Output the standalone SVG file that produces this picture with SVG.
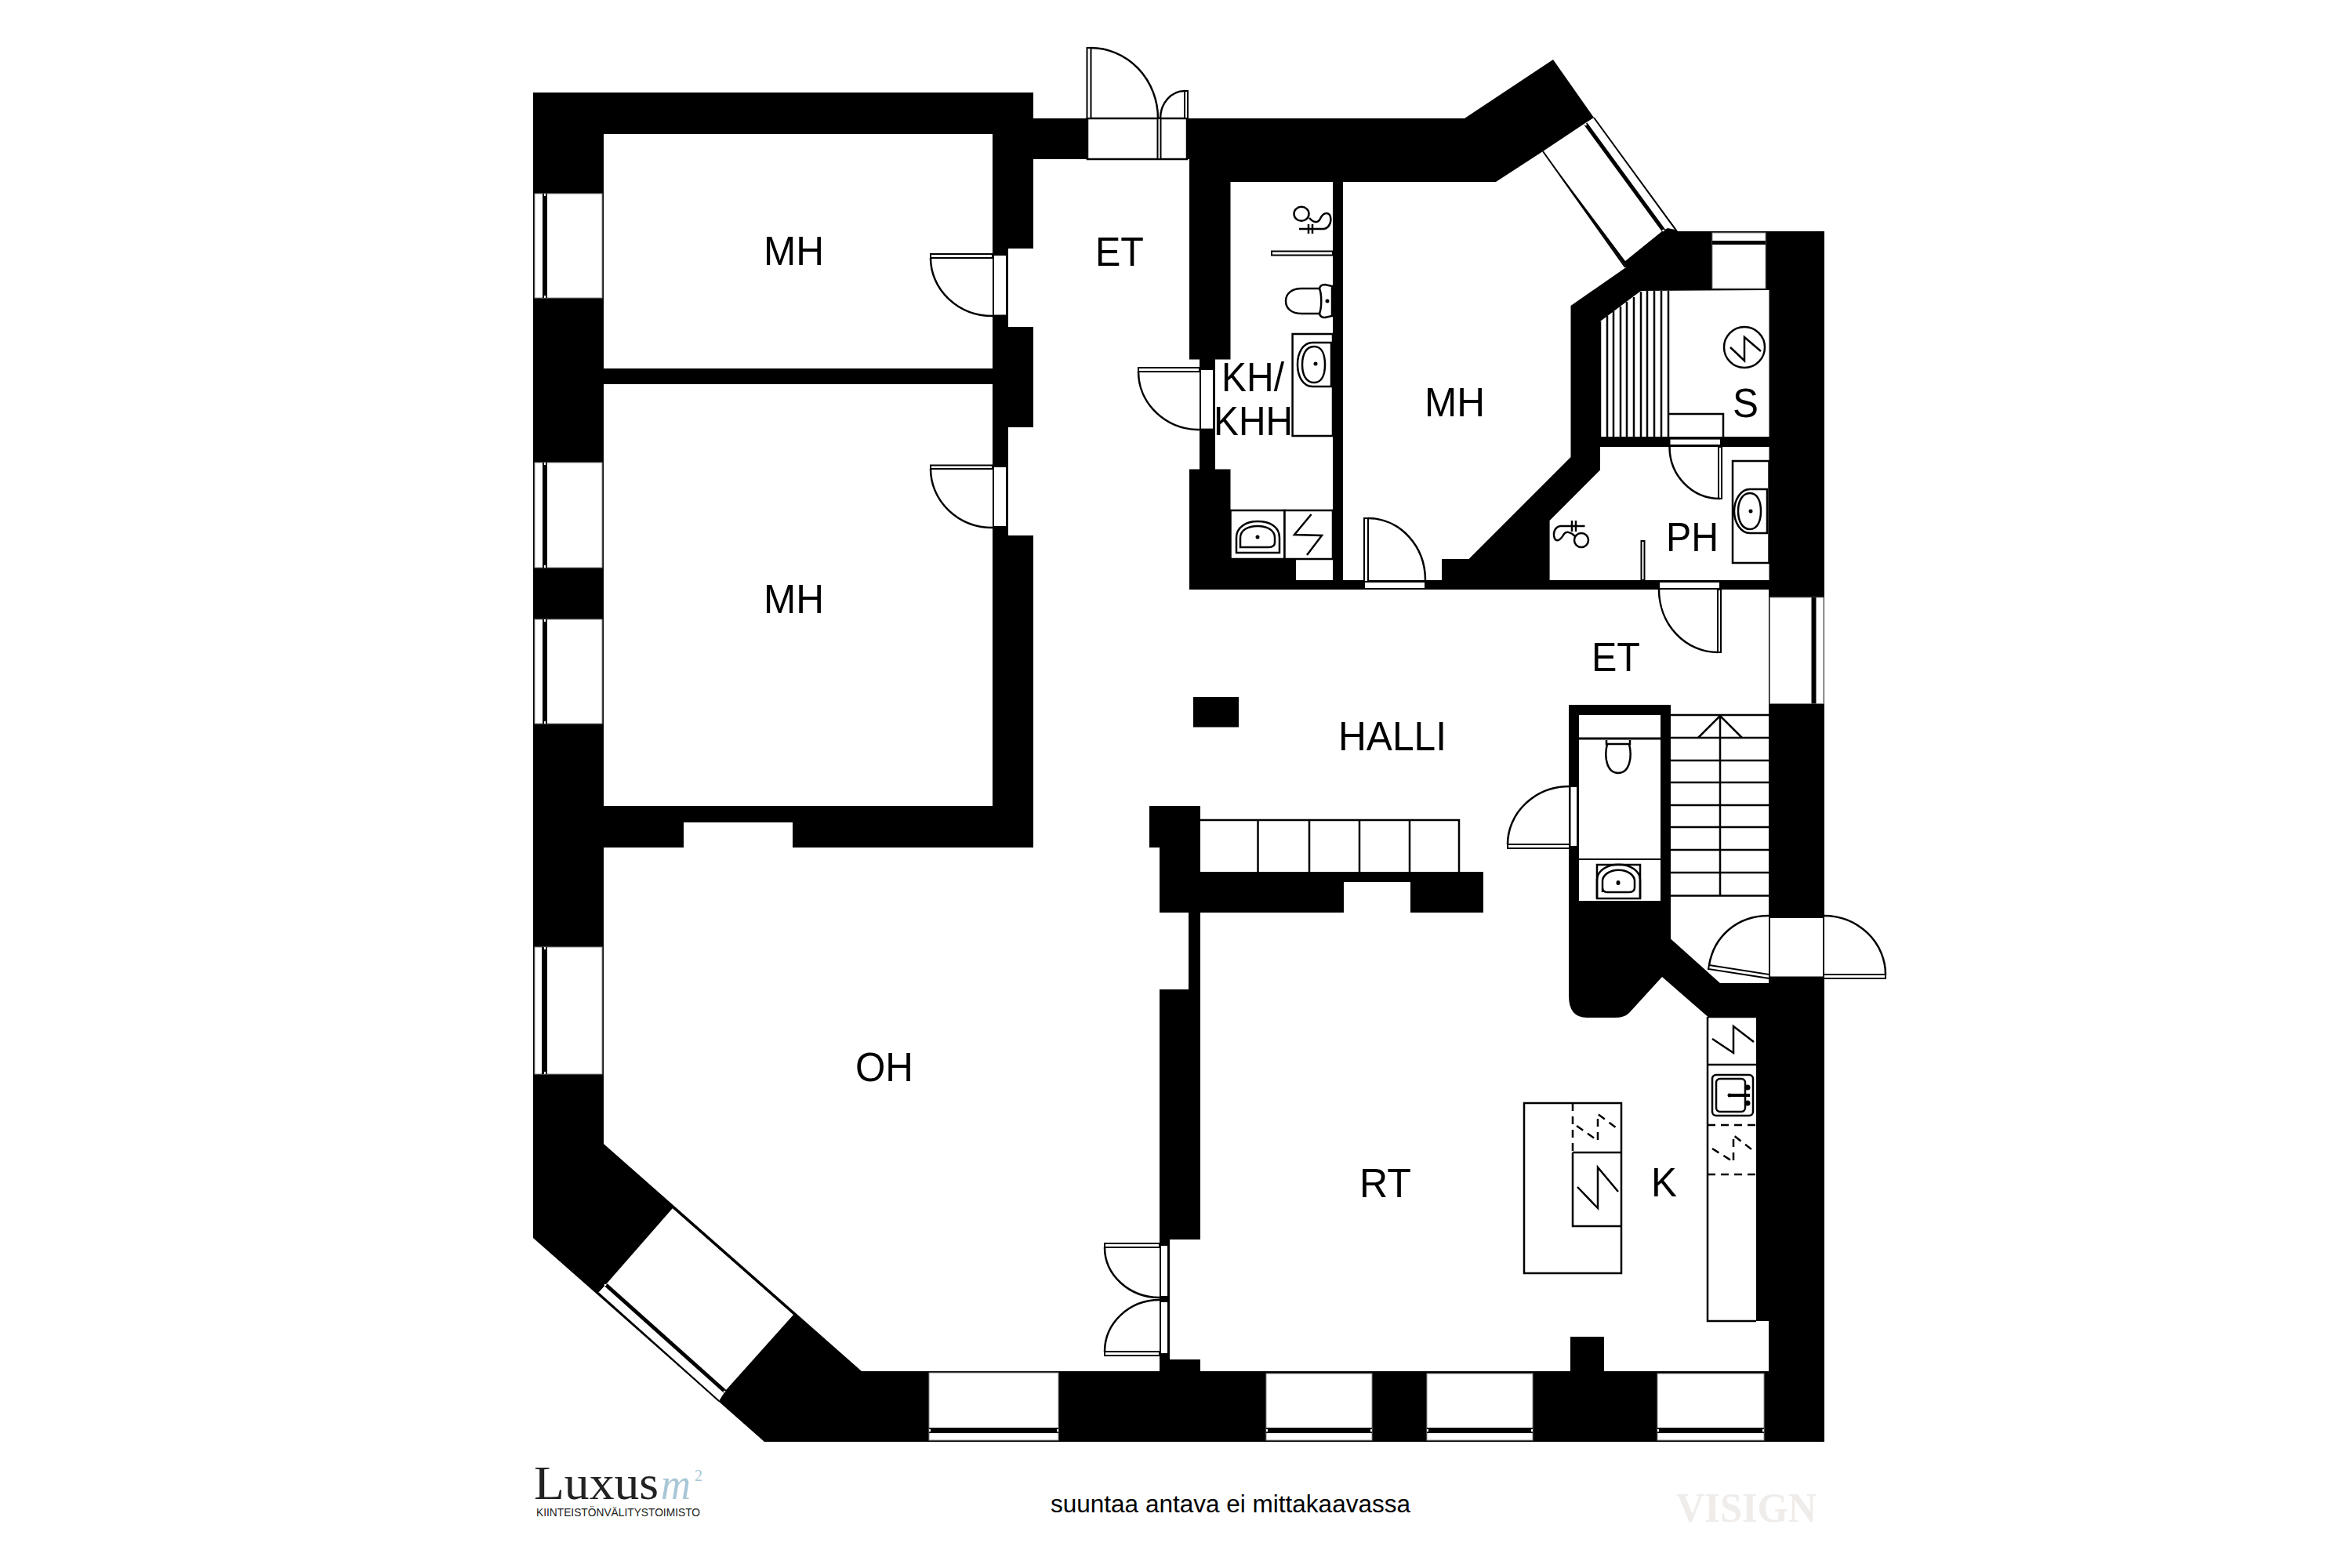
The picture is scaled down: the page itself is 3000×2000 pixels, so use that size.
<svg xmlns="http://www.w3.org/2000/svg" width="3000" height="2000" viewBox="0 0 3000 2000">
<style>
.wall{fill:#000}
.room{fill:#fff}
.win{fill:#fff;stroke:#888;stroke-width:1}
.winw{fill:#fff}
.bar{fill:#000}
.tick{fill:#fff}
.thin{fill:none;stroke:#000;stroke-width:2.5}
.fix{fill:#fff;stroke:#000;stroke-width:2.5}
.dash{fill:none;stroke:#000;stroke-width:2.5;stroke-dasharray:10 7}
.leaf{fill:#fff;stroke:#000;stroke-width:2}
.dot{fill:#000}
.lab{font-family:"Liberation Sans",Arial,sans-serif;font-size:52px;fill:#000}
</style>
<rect width="3000" height="2000" fill="#fff"/>

<!-- walls -->
<polygon class="wall" points="680,118 1318,118 1318,151 1868,151 1981,76 2033,150 2140,295 2327,295 2327,1839 975,1839 680,1579"/>

<!-- rooms -->
<rect class="room" x="770" y="171" width="496" height="299"/>
<rect class="room" x="770" y="490" width="496" height="538"/>
<path class="room" d="M1318,203H1517V458.5H1530V598.6H1517V752H2256V1254H2194L2131,1197.5V899H2001V1270Q2001,1298 2024,1298H2060Q2072,1298 2078,1292L2120,1246L2178.5,1297H2240V1685H2256V1749H2046V1705H2003V1749H1531V1734H1492V1581H1531V1164H1714V1125H1799V1164H1892V1112H1531V1028H1466V1081H1479V1164H1516V1262H1479V1749H1099L770,1459V1081H872V1049H1011V1081H1318V683H1286V545H1318V417H1286V317H1318Z"/>
<polygon class="room" points="1569.5,232 1700,232 1700,740 1653,740 1653,713 1569.5,713 1569.5,598.6 1550,598.6 1550,458.5 1569.5,458.5"/>
<polygon class="room" points="1713,232 1908,232 1968,193 2074,341 2003.5,390 2003.5,583 1873.5,713 1839,713 1839,740 1713,740"/>
<polygon class="room" points="2041,410 2093,371 2256.5,370 2256.5,557 2041,557"/>
<polygon class="room" points="2041,570 2256.5,570 2256.5,740 1976.6,740 1976.6,664 2041,599.5"/>

<!-- windows left -->
<g id="windows">
<rect class="win" x="682" y="247" width="86" height="133"/><rect class="bar" x="692" y="247" width="6" height="133"/>
<rect class="win" x="682" y="590" width="86" height="134"/><rect class="bar" x="692" y="590" width="6" height="134"/>
<rect class="win" x="682" y="790" width="86" height="133"/><rect class="bar" x="692" y="790" width="6" height="133"/>
<rect class="win" x="682" y="1208" width="86" height="162"/><rect class="bar" x="691" y="1208" width="7" height="162"/>
<!-- windows bottom -->
<rect class="win" x="1185" y="1751" width="165" height="86"/><rect class="bar" x="1185" y="1821" width="165" height="7"/>
<rect class="win" x="1615" y="1752" width="135" height="85"/><rect class="bar" x="1615" y="1821" width="135" height="7"/>
<rect class="win" x="1820" y="1752" width="135" height="85"/><rect class="bar" x="1820" y="1821" width="135" height="7"/>
<rect class="win" x="2114" y="1752" width="136" height="85"/><rect class="bar" x="2114" y="1821" width="136" height="7"/>
<!-- window end marks -->
<g class="tick">
<rect x="1185" y="1823" width="2" height="3"/><rect x="1348" y="1823" width="2" height="3"/>
<rect x="1615" y="1823" width="2" height="3"/><rect x="1748" y="1823" width="2" height="3"/>
<rect x="1820" y="1823" width="2" height="3"/><rect x="1953" y="1823" width="2" height="3"/>
<rect x="2114" y="1823" width="2" height="3"/><rect x="2248" y="1823" width="2" height="3"/>
<rect x="694" y="247" width="2" height="3"/><rect x="694" y="377" width="2" height="3"/>
<rect x="694" y="590" width="2" height="3"/><rect x="694" y="721" width="2" height="3"/>
<rect x="694" y="790" width="2" height="3"/><rect x="694" y="920" width="2" height="3"/>
<rect x="694" y="1208" width="2" height="3"/><rect x="694" y="1367" width="2" height="3"/>
</g>
<!-- diagonal SW window -->
<polygon class="winw" points="858,1541 1012,1677 926,1773 917,1787 763,1649 774,1637"/>
<line x1="773" y1="1639" x2="925" y2="1775" stroke="#000" stroke-width="5"/>
<line x1="858" y1="1540" x2="1013" y2="1676" stroke="#000" stroke-width="2"/>
<line x1="763" y1="1649" x2="917" y2="1787" stroke="#000" stroke-width="2"/>
<circle class="tick" cx="772" cy="1639" r="1.3"/><circle class="tick" cx="924" cy="1775" r="1.3"/>
<!-- diagonal NE window -->
<polygon class="winw" points="1968,193 2022,157 2033,150 2137,293 2127,291 2120,295 2073,333"/>
<line x1="2022.5" y1="158" x2="2122" y2="294" stroke="#000" stroke-width="5"/>
<line x1="1968" y1="193" x2="2073" y2="341" stroke="#000" stroke-width="2"/>
<line x1="2033" y1="150" x2="2138" y2="294" stroke="#000" stroke-width="2"/>
<circle class="tick" cx="2022.5" cy="159" r="1.3"/><circle class="tick" cx="2121.5" cy="294" r="1.3"/>
<!-- sauna vent -->
<rect class="win" x="2184" y="297" width="68" height="71"/><rect class="bar" x="2184" y="307" width="68" height="5"/>
<!-- right window -->
<rect class="win" x="2257.5" y="762" width="68.5" height="135.5"/><rect class="bar" x="2310.5" y="762" width="6" height="135.5"/>
</g>

<!-- pillar -->
<rect id="pillar" class="wall" x="1522" y="889" width="58" height="38.5"/>

<!-- doors -->
<g id="doors">
<rect class="fix" x="1387" y="151" width="127" height="52"/>
<rect class="leaf" x="1476.5" y="151" width="4" height="52"/>
<rect class="leaf" x="1386.5" y="61" width="5" height="90"/>
<path class="thin" d="M1391,61A86,90 0 0 1 1477,151"/>
<rect class="leaf" x="1511" y="116" width="4" height="35"/>
<path class="thin" d="M1511,116A31,35 0 0 0 1480,151"/>

<rect class="leaf" x="1267" y="325" width="17" height="77.5"/>
<rect class="leaf" x="1187" y="324" width="79" height="5"/>
<path class="thin" d="M1187,329A79,74 0 0 0 1266,403"/>
<rect class="leaf" x="1267" y="595" width="17" height="77"/>
<rect class="leaf" x="1187" y="593.5" width="79" height="4.5"/>
<path class="thin" d="M1187,598A79,75 0 0 0 1266,673"/>

<rect class="leaf" x="1531" y="471" width="17" height="76.6"/>
<rect class="leaf" x="1452" y="469" width="78" height="5"/>
<path class="thin" d="M1452,474A78,74 0 0 0 1530,548"/>

<rect class="leaf" x="1740" y="742" width="78" height="9"/>
<rect class="leaf" x="1740" y="661" width="5" height="81"/>
<path class="thin" d="M1745,661A73,79 0 0 1 1818,740"/>

<rect class="leaf" x="2129.5" y="559.6" width="65.5" height="8.4"/>
<rect class="leaf" x="2192" y="570" width="4" height="66"/>
<path class="thin" d="M2129.5,570A64,66 0 0 0 2194,636"/>

<rect class="leaf" x="2116" y="742" width="78" height="9"/>
<rect class="leaf" x="2191" y="752" width="4" height="80"/>
<path class="thin" d="M2116,752A75,80 0 0 0 2191,832"/>

<rect class="leaf" x="2002.5" y="1003" width="9.5" height="77"/>
<rect class="leaf" x="1923" y="1077" width="79" height="5"/>
<path class="thin" d="M1923,1077A79,74 0 0 1 2002,1003"/>

<rect class="leaf" x="1480" y="1588" width="10" height="66"/>
<rect class="leaf" x="1480" y="1660" width="10" height="67"/>
<rect class="leaf" x="1409" y="1586" width="70" height="5"/>
<path class="thin" d="M1409,1591A70,64 0 0 0 1479,1655"/>
<rect class="leaf" x="1409" y="1724" width="70" height="5"/>
<path class="thin" d="M1409,1724A70,66 0 0 1 1479,1658"/>

<rect class="leaf" x="2257" y="1170" width="69" height="76.5"/>
<rect class="leaf" x="2326" y="1243" width="79" height="5"/>
<path class="thin" d="M2405,1243A79,75 0 0 0 2326,1168"/>
<polygon class="leaf" points="2180,1231 2257,1243 2257,1248 2179,1236"/>
<path class="thin" d="M2180,1231C2186,1195 2215,1168 2256,1168"/>
</g>

<!-- stairs -->
<g id="stairs">
<path class="thin" d="M1531,1046H1861V1112M1604.5,1046V1112M1670,1046V1112M1734,1046V1112M1798,1046V1112"/>
<path class="thin" d="M2131,912H2256M2131,941H2256M2131,970H2256M2131,998H2256M2131,1027H2256M2131,1055H2256M2131,1084H2256M2131,1113H2256M2131,1142.5H2256M2194,912V1142.5M2166,941L2194,913L2222,941"/>
</g>

<!-- small WC -->
<g id="wc">
<rect class="room" x="2014" y="912" width="104" height="237"/>
<line x1="2014" y1="942" x2="2118" y2="942" stroke="#000" stroke-width="3"/>
<line x1="2014" y1="1096" x2="2118" y2="1096" stroke="#000" stroke-width="2"/>
<path class="thin" d="M2049,944V949H2079V944M2050,949C2046,965 2049,986 2064,986C2079,986 2082,965 2078,949"/>
<rect class="fix" x="2037" y="1103" width="55" height="43"/>
<path class="thin" d="M2037,1146V1122A27,19 0 0 1 2092,1122V1146M2044,1138V1124A20,14 0 0 1 2085,1124V1132Q2085,1138 2078,1138H2050Q2044,1138 2044,1132"/>
<ellipse class="dot" cx="2064" cy="1126" rx="2.5" ry="3"/>
</g>

<!-- KH fixtures -->
<g id="kh">
<ellipse class="thin" cx="1660" cy="272.7" rx="9.5" ry="9"/>
<path class="thin" d="M1670,278C1675,284 1681,285 1684,279C1687,272 1693,270 1696,274C1699,280 1697,290 1689,292"/>
<path class="thin" d="M1669,286V298M1674,286V298M1657,292H1689"/>
<rect class="leaf" x="1622" y="320.5" width="78" height="5"/>
<path class="thin" d="M1683,368H1660C1647,368 1640,375 1640,384C1640,393 1647,400 1660,400H1683C1686,392 1686,376 1683,368Z"/>
<path class="thin" d="M1683,368Q1684,363 1690,363L1699,365V403L1690,405Q1684,405 1683,400"/>
<circle class="dot" cx="1693" cy="384" r="2.5"/>
<rect class="fix" x="1648.6" y="426" width="51.4" height="130"/>
<path class="thin" d="M1698,437H1674C1662,437 1655,450 1655,465C1655,480 1662,493 1674,493H1698Z"/>
<path class="thin" d="M1676,442C1666,442 1661,452 1661,465C1661,478 1666,488 1676,488C1686,488 1690,478 1690,465C1690,452 1686,442 1676,442Z"/>
<circle class="dot" cx="1678" cy="464" r="2.5"/>
<rect class="fix" x="1569.5" y="651" width="69" height="62"/>
<rect class="fix" x="1638.5" y="651" width="61.5" height="62"/>
<path class="thin" d="M1577,705V686C1577,672 1590,665 1604,665C1620,665 1632,672 1632,686V705Z"/>
<path class="thin" d="M1582,698V686C1582,676 1592,671 1604,671C1616,671 1626,676 1626,686V692Q1626,698 1618,698Z"/>
<circle class="dot" cx="1604" cy="685" r="2.5"/>
<path class="thin" d="M1672.6,656L1651,682L1686,683L1667,708"/>
</g>

<!-- sauna -->
<g id="sauna">
<path class="thin" stroke-width="2" d="M2041,410V557M2050,403V557M2058,397V557M2067,391V557M2075,385V557M2084,379V557M2093,372V557M2101,371V557M2110,371V557M2119,371V557"/>
<path class="thin" d="M2128,371V557M2128,528H2198V557"/>
<ellipse class="thin" cx="2225" cy="443" rx="26" ry="26"/>
<path class="thin" d="M2207,443L2225,460V430L2246,448"/>
</g>

<!-- PH fixtures -->
<g id="ph">
<rect class="fix" x="2210" y="588" width="46.5" height="130"/>
<path class="thin" d="M2254,624H2232C2220,624 2212,638 2212,652C2212,666 2220,680 2232,680H2254Z"/>
<path class="thin" d="M2232,629C2222,629 2217,640 2217,652C2217,664 2222,675 2232,675C2242,675 2246,664 2246,652C2246,640 2242,629 2232,629Z"/>
<circle class="dot" cx="2233" cy="652" r="2.5"/>
<circle class="thin" cx="2017" cy="689" r="9"/>
<path class="thin" d="M2009,684C2004,679 1998,677 1995,681C1991,688 1986,692 1983,687C1980,679 1984,672 1990,671"/>
<path class="thin" d="M2005,664V678M2010,664V678M1990,671H2021.5"/>
<rect class="leaf" x="2093.5" y="690" width="4" height="50"/>
</g>

<!-- kitchen -->
<g id="kitchen">
<path class="thin" d="M2178,1297V1685H2240M2178,1297H2240M2178,1358H2240"/>
<path class="thin" d="M2184,1325L2211,1343V1309L2237,1329"/>
<rect class="thin" x="2184" y="1371" width="52" height="52" rx="5"/>
<rect class="thin" x="2189" y="1376" width="37" height="42" rx="5"/>
<line x1="2206" y1="1397" x2="2232" y2="1397" stroke="#000" stroke-width="4"/>
<circle class="dot" cx="2206" cy="1397" r="2.5"/>
<circle class="dot" cx="2229" cy="1387" r="3.5"/><circle class="dot" cx="2229" cy="1407" r="3.5"/>
<path class="dash" d="M2178,1435H2240M2178,1498H2240"/>
<path class="dash" d="M2184,1465L2211,1482V1448L2238,1469"/>
<rect class="thin" x="1944" y="1407" width="124" height="217"/>
<path class="thin" d="M2006,1470H2068M2006,1470V1564H2068"/>
<path class="thin" d="M2012,1514L2038,1541V1489L2064,1520"/>
<path class="dash" d="M2006,1407V1469"/>
<path class="dash" d="M2011,1436L2038,1455V1421L2065,1441"/>
</g>

<!-- labels -->
<g id="labels">
<text class="lab" x="974" y="338" textLength="77" lengthAdjust="spacingAndGlyphs">MH</text>
<text class="lab" x="974" y="782" textLength="77" lengthAdjust="spacingAndGlyphs">MH</text>
<text class="lab" x="1397" y="339" textLength="62" lengthAdjust="spacingAndGlyphs">ET</text>
<text class="lab" x="1558" y="499" textLength="80" lengthAdjust="spacingAndGlyphs">KH/</text>
<text class="lab" x="1548" y="555" textLength="101" lengthAdjust="spacingAndGlyphs">KHH</text>
<text class="lab" x="1817" y="531" textLength="77" lengthAdjust="spacingAndGlyphs">MH</text>
<text class="lab" x="2210" y="532" textLength="33" lengthAdjust="spacingAndGlyphs">S</text>
<text class="lab" x="2125" y="703" textLength="67" lengthAdjust="spacingAndGlyphs">PH</text>
<text class="lab" x="2030" y="856" textLength="62" lengthAdjust="spacingAndGlyphs">ET</text>
<text class="lab" x="1707" y="957" textLength="138" lengthAdjust="spacingAndGlyphs">HALLI</text>
<text class="lab" x="1091" y="1379" textLength="74" lengthAdjust="spacingAndGlyphs">OH</text>
<text class="lab" x="1734" y="1527" textLength="66" lengthAdjust="spacingAndGlyphs">RT</text>
<text class="lab" x="2106" y="1526" textLength="33" lengthAdjust="spacingAndGlyphs">K</text>
</g>

<!-- footer -->
<g id="footer">
<text x="681" y="1912" font-family="'Liberation Serif','Times New Roman',serif" font-size="62" fill="#222" textLength="159" lengthAdjust="spacingAndGlyphs">Luxus</text>
<text x="843" y="1912" font-family="'Liberation Serif','Times New Roman',serif" font-style="italic" font-size="58" fill="#a9c7d6" textLength="38" lengthAdjust="spacingAndGlyphs">m</text>
<text x="886" y="1889" font-family="'Liberation Serif','Times New Roman',serif" font-size="20" fill="#a9c7d6">2</text>
<text x="684" y="1934" font-family="'Liberation Sans',Arial,sans-serif" font-size="14.5" fill="#222" textLength="209" lengthAdjust="spacingAndGlyphs">KIINTEISTÖNVÄLITYSTOIMISTO</text>
<text x="1340" y="1929" font-family="'Liberation Sans',Arial,sans-serif" font-size="31" fill="#000" textLength="459" lengthAdjust="spacingAndGlyphs">suuntaa antava ei mittakaavassa</text>
<text x="2138" y="1941" font-family="'Liberation Serif','Times New Roman',serif" font-weight="bold" font-size="53" fill="#efecea" textLength="179" lengthAdjust="spacingAndGlyphs">VISIGN</text>
</g>
</svg>
